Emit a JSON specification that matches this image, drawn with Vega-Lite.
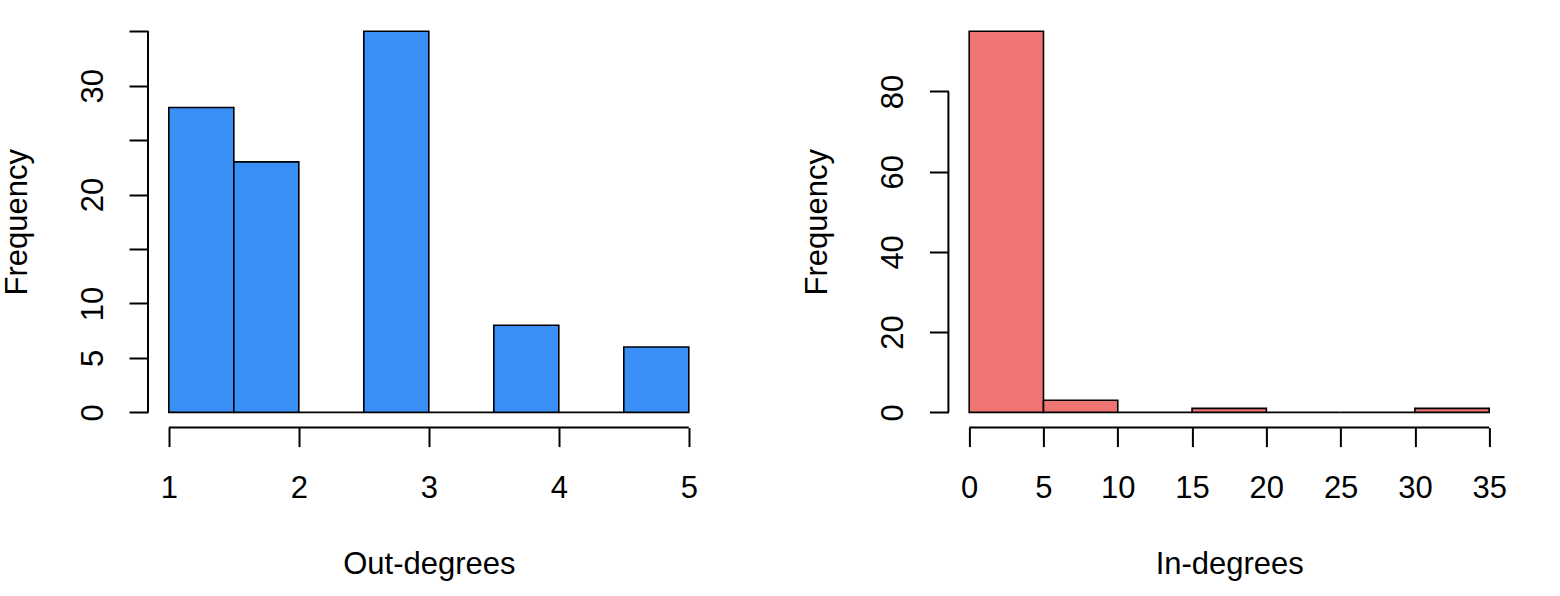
{
  "$schema": "https://vega.github.io/schema/vega-lite/v6.json",
  "background": "white",
  "padding": {"left": 1, "top": 16, "right": 5, "bottom": 5},
  "bounds": "flush",
  "spacing": 238.4,
  "config": {
    "view": {"stroke": null},
    "font": "Liberation Sans",
    "axis": {
      "grid": false,
      "domain": false,
      "ticks": true,
      "tickSize": 19,
      "tickWidth": 2,
      "tickColor": "black",
      "labelFont": "Liberation Sans",
      "labelFontSize": 31,
      "labelColor": "black",
      "labelOverlap": false,
      "labelFlush": false,
      "titleFont": "Liberation Sans",
      "titleFontSize": 31,
      "titleFontWeight": "normal",
      "titleColor": "black"
    },
    "axisX": {
      "labelBaseline": "alphabetic",
      "labelPadding": 51,
      "labelAngle": 0,
      "titleBaseline": "alphabetic",
      "titleY": 146
    },
    "axisY": {
      "labelAngle": -90,
      "labelAlign": "center",
      "labelBaseline": "alphabetic",
      "labelPadding": 27,
      "titleAngle": -90,
      "titleAlign": "center",
      "titleBaseline": "alphabetic",
      "titleX": -121.5,
      "titleY": 205.8
    }
  },
  "hconcat": [
    {
      "width": 561.6,
      "height": 411.6,
      "layer": [
        {
          "data": {"values": [
            {"x0": 1, "x1": 1.5, "count": 28},
            {"x0": 1.5, "x1": 2, "count": 23},
            {"x0": 2, "x1": 2.5, "count": 0},
            {"x0": 2.5, "x1": 3, "count": 35},
            {"x0": 3, "x1": 3.5, "count": 0},
            {"x0": 3.5, "x1": 4, "count": 8},
            {"x0": 4, "x1": 4.5, "count": 0},
            {"x0": 4.5, "x1": 5, "count": 6}
          ]},
          "mark": {"type": "rect", "fill": "#3A8FF7", "stroke": "black", "strokeWidth": 1.6},
          "encoding": {
            "x": {"field": "x0", "type": "quantitative",
              "scale": {"domain": [0.84, 5.16], "nice": false, "zero": false},
              "axis": {"values": [1, 2, 3, 4, 5], "format": "d", "title": "Out-degrees"}},
            "x2": {"field": "x1"},
            "y": {"field": "count", "type": "quantitative",
              "scale": {"domain": [-1.4, 36.4], "nice": false, "zero": false},
              "axis": {"values": [0, 5, 10, 15, 20, 25, 30, 35], "format": "d",
                "labelExpr": "(datum.value == 15 || datum.value == 25 || datum.value == 35) ? '' : datum.label",
                "title": "Frequency"}},
            "y2": {"datum": 0}
          }
        },
        {
          "data": {"values": [{}]},
          "mark": {"type": "rule", "color": "black", "strokeWidth": 2},
          "encoding": {
            "x": {"datum": 1, "type": "quantitative"},
            "x2": {"datum": 5},
            "y": {"datum": -1.4, "type": "quantitative"}
          }
        },
        {
          "data": {"values": [{}]},
          "mark": {"type": "rule", "color": "black", "strokeWidth": 2},
          "encoding": {
            "x": {"datum": 0.84, "type": "quantitative"},
            "y": {"datum": 0, "type": "quantitative"},
            "y2": {"datum": 35}
          }
        }
      ]
    },
    {
      "width": 561.6,
      "height": 411.6,
      "layer": [
        {
          "data": {"values": [
            {"x0": 0, "x1": 5, "count": 95},
            {"x0": 5, "x1": 10, "count": 3},
            {"x0": 10, "x1": 15, "count": 0},
            {"x0": 15, "x1": 20, "count": 1},
            {"x0": 20, "x1": 25, "count": 0},
            {"x0": 25, "x1": 30, "count": 0},
            {"x0": 30, "x1": 35, "count": 1}
          ]},
          "mark": {"type": "rect", "fill": "#EF7572", "stroke": "black", "strokeWidth": 1.6},
          "encoding": {
            "x": {"field": "x0", "type": "quantitative",
              "scale": {"domain": [-1.4, 36.4], "nice": false, "zero": false},
              "axis": {"values": [0, 5, 10, 15, 20, 25, 30, 35], "format": "d", "title": "In-degrees"}},
            "x2": {"field": "x1"},
            "y": {"field": "count", "type": "quantitative",
              "scale": {"domain": [-3.8, 98.8], "nice": false, "zero": false},
              "axis": {"values": [0, 20, 40, 60, 80], "format": "d", "title": "Frequency"}},
            "y2": {"datum": 0}
          }
        },
        {
          "data": {"values": [{}]},
          "mark": {"type": "rule", "color": "black", "strokeWidth": 2},
          "encoding": {
            "x": {"datum": 0, "type": "quantitative"},
            "x2": {"datum": 35},
            "y": {"datum": -3.8, "type": "quantitative"}
          }
        },
        {
          "data": {"values": [{}]},
          "mark": {"type": "rule", "color": "black", "strokeWidth": 2},
          "encoding": {
            "x": {"datum": -1.4, "type": "quantitative"},
            "y": {"datum": 0, "type": "quantitative"},
            "y2": {"datum": 80}
          }
        }
      ]
    }
  ]
}
